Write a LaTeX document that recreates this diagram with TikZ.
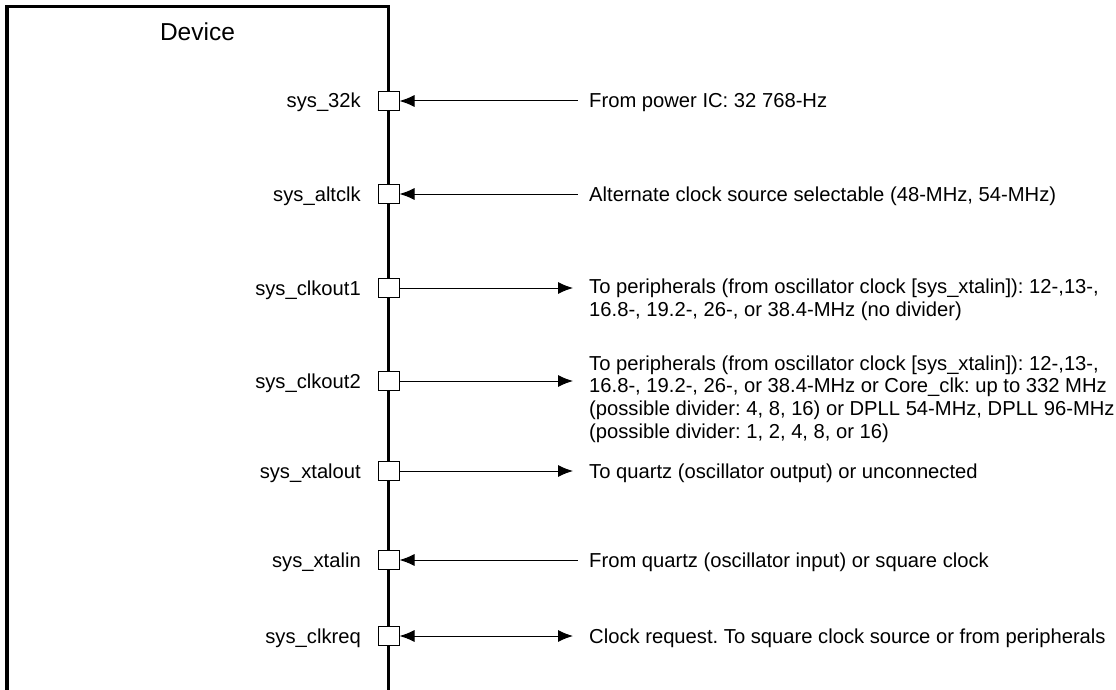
\documentclass[tikz,border=0pt]{standalone}
\usepackage{fontspec}
\setmainfont{Liberation Sans}
\usetikzlibrary{arrows.meta,positioning}
\frenchspacing
\tikzset{
	portA/.style={
		draw, fill=white, line width=1pt, inner sep=0pt,
		minimum width=21pt, minimum height=19pt
	},
	txtA/.style={
		inner sep=0pt, align=left,
		font={\fontsize{20.2}{22.8}\selectfont}
	},
	sigA/.style={line width=1pt},
	>={Latex[length=15pt,width=12pt]},
}
\def\padX{388.5}
\def\txtX{589}

\begin{document}
\begin{tikzpicture}[x=1pt, y=-1pt]
\useasboundingbox (0,0) rectangle (1116,690);
\draw[line width=3.5pt] (7,6.3) rectangle (\padX,693);
\node[txtA, font={\fontsize{24.5}{28}\selectfont}, anchor=base] (dev) at (197.5,41) {Device};
\foreach \nm/\yy/\lbl/\ex in {s32k/101/sys\_32k/578, alt/194/sys\_altclk/578,
	out1/288/sys\_clkout1/573, out2/381/sys\_clkout2/573,
	xout/471/sys\_xtalout/573, xin/560/sys\_xtalin/578, req/636/sys\_clkreq/573}{
	\node[portA] (\nm) at (\padX,\yy) {};
	\node[txtA, anchor=base east] (\nm-lbl) at (361,\yy+7) {\lbl};
	\coordinate (\nm-end) at (\ex,\yy);
}
\draw[sigA, <-] (s32k) -- (s32k-end);
\draw[sigA, <-] (alt) -- (alt-end);
\draw[sigA, ->] (out1) -- (out1-end);
\draw[sigA, ->] (out2) -- (out2-end);
\draw[sigA, ->] (xout) -- (xout-end);
\draw[sigA, <-] (xin) -- (xin-end);
\draw[sigA, <->] (req) -- (req-end);
% texts on the right (base = last line)
\node[txtA, anchor=base west] (s32k-txt) at (\txtX,108) {From power IC: 32 768-Hz};
\node[txtA, anchor=base west] (alt-txt) at (\txtX,201) {Alternate clock source selectable (48-MHz, 54-MHz)};
\node[txtA, anchor=base west] (out1-txt) at (\txtX,316) {To peripherals (from oscillator clock [sys\_xtalin]): 12-,13-,\\16.8-, 19.2-, 26-, or 38.4-MHz (no divider)};
\node[txtA, anchor=base west] (out2-txt) at (\txtX,438.5) {To peripherals (from oscillator clock [sys\_xtalin]): 12-,13-,\\16.8-, 19.2-, 26-, or 38.4-MHz or Core\_clk: up to 332 MHz\\(possible divider: 4, 8, 16) or DPLL 54-MHz, DPLL 96-MHz\\(possible divider: 1, 2, 4, 8, or 16)};
\node[txtA, anchor=base west] (xout-txt) at (\txtX,478) {To quartz (oscillator output) or unconnected};
\node[txtA, anchor=base west] (xin-txt) at (\txtX,567) {From quartz (oscillator input) or square clock};
\node[txtA, anchor=base west] (req-txt) at (\txtX,643) {Clock request. To square clock source or from peripherals};
\end{tikzpicture}
\end{document}
